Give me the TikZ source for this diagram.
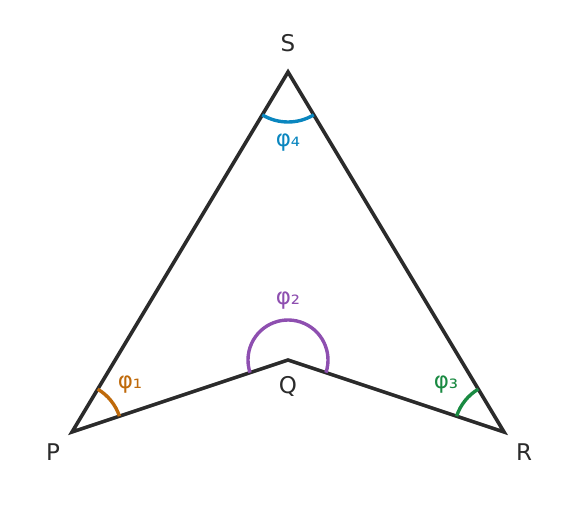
\documentclass[tikz,border=0pt]{standalone}
\usepackage{fontspec}
\setmainfont{DejaVu Sans}
\definecolor{edgec}{HTML}{2B2B2B}
\definecolor{cone}{HTML}{BF6A0B}
\definecolor{ctwo}{HTML}{8E4FB0}
\definecolor{cthree}{HTML}{1A8A42}
\definecolor{cfour}{HTML}{0A86BF}
\begin{document}
\begin{tikzpicture}[x=1pt,y=1pt,
  vlabel/.style={font=\fontsize{23}{26}\selectfont, text=edgec, inner sep=0pt},
  alabel/.style={font=\fontsize{23}{26}\selectfont, inner sep=0pt},
  side/.style={draw=edgec, line width=3.6pt},
  anglearc/.style={line width=3.4pt}]
\useasboundingbox (0,0) rectangle (576,504);
\coordinate (P) at (72,72);
\coordinate (S) at (288,432);
\coordinate (R) at (504,72);
\coordinate (Q) at (288,144);
\draw[side] (P) -- (S) -- (R) -- (Q) -- cycle;
\draw[anglearc, cone] ([shift={(P)}]18.43:50) arc[start angle=18.43, end angle=59.04, radius=50];
\draw[anglearc, ctwo] ([shift={(Q)}]-18.43:40) arc[start angle=-18.43, end angle=198.43, radius=40];
\draw[anglearc, cthree] ([shift={(R)}]120.96:50) arc[start angle=120.96, end angle=161.57, radius=50];
\draw[anglearc, cfour] ([shift={(S)}]239.04:50) arc[start angle=239.04, end angle=300.96, radius=50];
\node[vlabel] (lS) at (288,461) {S};
\node[vlabel] (lP) at (53,52) {P};
\node[vlabel] (lR) at (524,52) {R};
\node[vlabel] (lQ) at (288,118) {Q};
\node[alabel, text=cone] (l1) at (130,119) {φ₁};
\node[alabel, text=ctwo] (l2) at (288,203) {φ₂};
\node[alabel, text=cthree] (l3) at (446,119) {φ₃};
\node[alabel, text=cfour] (l4) at (288,361) {φ₄};
\end{tikzpicture}
\end{document}
